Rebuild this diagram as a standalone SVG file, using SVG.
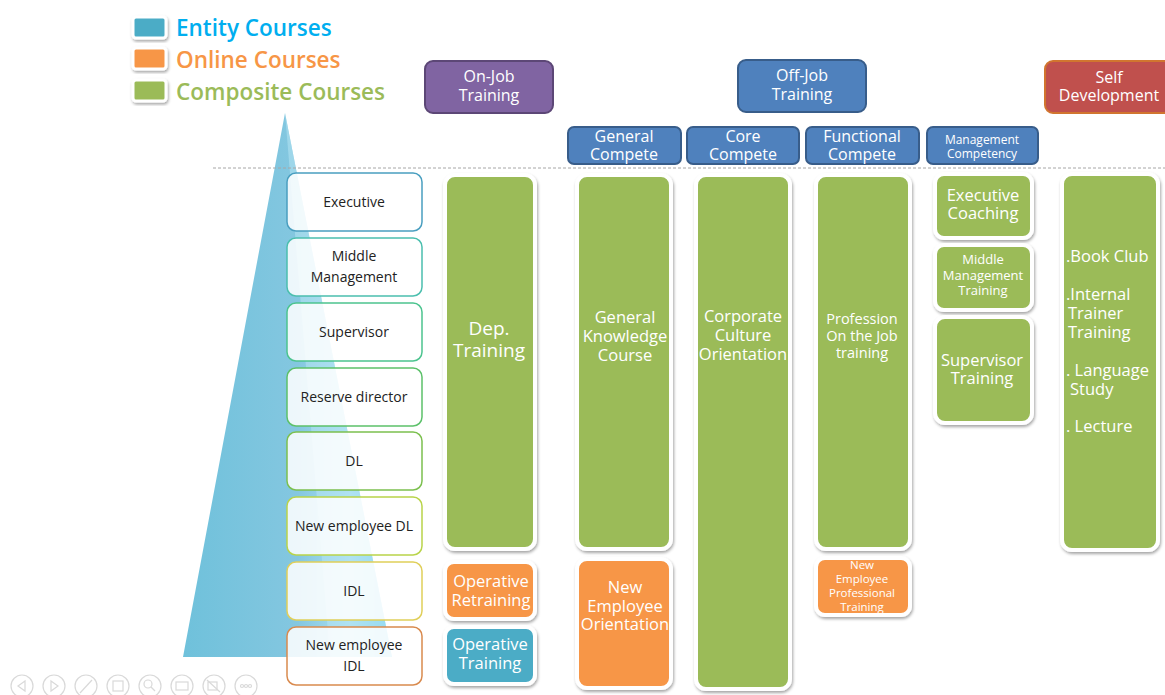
<svg xmlns="http://www.w3.org/2000/svg" width="1165" height="695" viewBox="0 0 1165 695">
<defs>
<filter id="sh" x="-20%" y="-20%" width="140%" height="140%">
<feDropShadow dx="1" dy="2" stdDeviation="1.6" flood-color="#000" flood-opacity="0.35"/>
</filter>
<linearGradient id="triL" x1="0" y1="0" x2="1" y2="0">
<stop offset="0" stop-color="#6fc1db"/>
<stop offset="0.55" stop-color="#84c7e0"/>
<stop offset="0.8" stop-color="#a9dff0"/>
<stop offset="1" stop-color="#6fd0f0"/>
</linearGradient>
</defs>
<style>
.t{font-family:"Open Sans","Noto Sans","DejaVu Sans",sans-serif;}
.lg{font-size:22.5px;font-weight:600;}
.lvl rect{fill:#ffffff;fill-opacity:0.86;stroke-width:1.5;}
.lvl text{font-size:14px;fill:#222;text-anchor:middle;}
.hd{stroke-width:2;}
.hd text, .wt{fill:#fff;text-anchor:middle;}
.card{stroke:#fff;stroke-width:4;filter:url(#sh);}
.g{fill:#9bbb59;}
.o{fill:#f79646;}
.b{fill:#4bacc6;}
.blue{fill:#4f81bd;stroke:#385d8a;}
.ic{fill:none;stroke:#d9d9d9;stroke-width:1.2;}
</style>

<g id="legend">
<rect x="133" y="17" width="33" height="21" rx="3" fill="#4bacc6" stroke="#fff" stroke-width="3" filter="url(#sh)"/>
<rect x="133" y="48" width="33" height="21" rx="3" fill="#f79646" stroke="#fff" stroke-width="3" filter="url(#sh)"/>
<rect x="133" y="80" width="33" height="21" rx="3" fill="#9bbb59" stroke="#fff" stroke-width="3" filter="url(#sh)"/>
<text class="t lg" x="176" y="36" fill="#00aeef">Entity Courses</text>
<text class="t lg" x="176" y="68" fill="#f79646">Online Courses</text>
<text class="t lg" x="176" y="100" fill="#9bbb59">Composite Courses</text>
</g>

<g id="pyramid">
<polygon points="285,113 183,657 392,657" fill="url(#triL)"/>
<polygon points="285,113 330,657 392,657" fill="#b5e4f3" opacity="0.55"/>
</g>

<line x1="213" y1="168" x2="1165" y2="168" stroke="#a6a6a6" stroke-width="1" stroke-dasharray="3,2"/>

<g id="levels" class="t">
<g id="lvl-executive" class="lvl"><rect x="287" y="173" width="135" height="58" rx="9" stroke="#4a9fc0"/><text x="354" y="207">Executive</text></g>
<g id="lvl-middle" class="lvl"><rect x="287" y="238" width="135" height="58" rx="9" stroke="#4bbfae"/><text x="354" y="261">Middle</text><text x="354" y="282">Management</text></g>
<g id="lvl-supervisor" class="lvl"><rect x="287" y="303" width="135" height="58" rx="9" stroke="#4cc48f"/><text x="354" y="337">Supervisor</text></g>
<g id="lvl-reserve" class="lvl"><rect x="287" y="368" width="135" height="58" rx="9" stroke="#5cc16a"/><text x="354" y="402">Reserve director</text></g>
<g id="lvl-dl" class="lvl"><rect x="287" y="432" width="135" height="58" rx="9" stroke="#7cc04f"/><text x="354" y="466">DL</text></g>
<g id="lvl-newdl" class="lvl"><rect x="287" y="497" width="135" height="58" rx="9" stroke="#b9d44a"/><text x="354" y="531">New employee DL</text></g>
<g id="lvl-idl" class="lvl"><rect x="287" y="562" width="135" height="58" rx="9" stroke="#e0cf5a"/><text x="354" y="596">IDL</text></g>
<g id="lvl-newidl" class="lvl"><rect x="287" y="627" width="135" height="58" rx="9" stroke="#d98a4e"/><text x="354" y="650">New employee</text><text x="354" y="671">IDL</text></g>
</g>

<g id="headers" class="t">
<g id="h-onjob" class="hd"><rect x="425" y="61" width="128" height="52" rx="8" fill="#8064a2" stroke="#5c4776" stroke-width="2"/><text x="489" y="82" font-size="16">On-Job</text><text x="489" y="101" font-size="16">Training</text></g>
<g id="h-offjob" class="hd"><rect x="738" y="60" width="128" height="52" rx="8" class="blue" stroke-width="2"/><text x="802" y="81" font-size="16">Off-Job</text><text x="802" y="100" font-size="16">Training</text></g>
<g id="h-self" class="hd"><rect x="1045" y="61" width="130" height="52" rx="8" fill="#c0504d" stroke="#d1752f" stroke-width="2"/><text x="1109" y="83" font-size="16">Self</text><text x="1109" y="101" font-size="16">Development</text></g>
<g id="h-general" class="hd"><rect x="568" y="127" width="113" height="37" rx="6" class="blue" stroke-width="2"/><text x="624" y="142" font-size="16">General</text><text x="624" y="160" font-size="16">Compete</text></g>
<g id="h-core" class="hd"><rect x="687" y="127" width="112" height="37" rx="6" class="blue" stroke-width="2"/><text x="743" y="142" font-size="16">Core</text><text x="743" y="160" font-size="16">Compete</text></g>
<g id="h-functional" class="hd"><rect x="806" y="127" width="113" height="37" rx="6" class="blue" stroke-width="2"/><text x="862" y="142" font-size="16">Functional</text><text x="862" y="160" font-size="16">Compete</text></g>
<g id="h-management" class="hd"><rect x="927" y="127" width="111" height="37" rx="6" class="blue" stroke-width="2"/><text x="982" y="144" font-size="12">Management</text><text x="982" y="158" font-size="12">Competency</text></g>
</g>

<g id="courses" class="t">
<g id="c-dep"><rect class="card g" x="445" y="175" width="90" height="374" rx="10"/><text class="wt" x="489" y="335" font-size="19">Dep.</text><text class="wt" x="489" y="357" font-size="19">Training</text></g>
<g id="c-opretrain"><rect class="card o" x="445" y="562" width="90" height="57" rx="9"/><text class="wt" x="491" y="587" font-size="16.5">Operative</text><text class="wt" x="491" y="606" font-size="16.5">Retraining</text></g>
<g id="c-optrain"><rect class="card b" x="445" y="627" width="90" height="57" rx="9"/><text class="wt" x="490" y="650" font-size="16.5">Operative</text><text class="wt" x="490" y="669" font-size="16.5">Training</text></g>
<g id="c-genknow"><rect class="card g" x="577" y="175" width="94" height="374" rx="10"/><text class="wt" x="625" y="323" font-size="16.5">General</text><text class="wt" x="625" y="342" font-size="16.5">Knowledge</text><text class="wt" x="625" y="361" font-size="16.5">Course</text></g>
<g id="c-neworient"><rect class="card o" x="577" y="559" width="94" height="129" rx="10"/><text class="wt" x="625" y="593" font-size="16.5">New</text><text class="wt" x="625" y="612" font-size="16.5">Employee</text><text class="wt" x="625" y="630" font-size="16.5">Orientation</text></g>
<g id="c-culture"><rect class="card g" x="696" y="175" width="94" height="514" rx="10"/><text class="wt" x="743" y="322" font-size="16.5">Corporate</text><text class="wt" x="743" y="341" font-size="16.5">Culture</text><text class="wt" x="743" y="360" font-size="16.5">Orientation</text></g>
<g id="c-profession"><rect class="card g" x="816" y="175" width="94" height="374" rx="10"/><text class="wt" x="862" y="324" font-size="14.5">Profession</text><text class="wt" x="862" y="341" font-size="14.5">On the Job</text><text class="wt" x="862" y="358" font-size="14.5">training</text></g>
<g id="c-newprof"><rect class="card o" x="816" y="558" width="94" height="57" rx="9"/><text class="wt" x="862" y="569" font-size="11.5">New</text><text class="wt" x="862" y="583" font-size="11.5">Employee</text><text class="wt" x="862" y="597" font-size="11.5">Professional</text><text class="wt" x="862" y="611" font-size="11.5">Training</text></g>
<g id="c-execcoach"><rect class="card g" x="935" y="174" width="97" height="64" rx="9"/><text class="wt" x="983" y="201" font-size="16.5">Executive</text><text class="wt" x="983" y="219" font-size="16.5">Coaching</text></g>
<g id="c-midmgmt"><rect class="card g" x="935" y="245" width="97" height="65" rx="9"/><text class="wt" x="983" y="264" font-size="13">Middle</text><text class="wt" x="983" y="280" font-size="13">Management</text><text class="wt" x="983" y="295" font-size="13">Training</text></g>
<g id="c-supervisor"><rect class="card g" x="935" y="317" width="97" height="106" rx="10"/><text class="wt" x="982" y="366" font-size="16.5">Supervisor</text><text class="wt" x="982" y="384" font-size="16.5">Training</text></g>
<g id="c-self"><rect class="card g" x="1062" y="174" width="96" height="376" rx="10"/>
<g fill="#fff" font-size="16.5"><text x="1066" y="262">.Book Club</text><text x="1066" y="300">.Internal</text><text x="1068" y="319">Trainer</text><text x="1068" y="338">Training</text><text x="1066" y="376">. Language</text><text x="1070" y="395">Study</text><text x="1066" y="432">. Lecture</text></g></g>
</g>

<g id="connectors"></g>

<g id="toolbar">
<circle class="ic" cx="22" cy="686" r="11"/><polygon class="ic" points="25,681 18,686 25,691"/>
<circle class="ic" cx="54" cy="686" r="11"/><polygon class="ic" points="51,681 58,686 51,691"/>
<circle class="ic" cx="86" cy="686" r="11"/><line class="ic" x1="80" y1="693" x2="92" y2="680"/>
<circle class="ic" cx="118" cy="686" r="11"/><rect class="ic" x="113" y="681" width="10" height="10"/>
<circle class="ic" cx="150" cy="686" r="11"/><circle class="ic" cx="148" cy="684" r="4"/><line class="ic" x1="151" y1="687" x2="155" y2="691"/>
<circle class="ic" cx="182" cy="686" r="11"/><rect class="ic" x="176" y="682" width="12" height="8"/>
<circle class="ic" cx="214" cy="686" r="11"/><rect class="ic" x="208" y="682" width="9" height="8"/><line class="ic" x1="207" y1="680" x2="220" y2="692"/>
<circle class="ic" cx="246" cy="686" r="11"/><circle class="ic" cx="242" cy="686" r="1.5"/><circle class="ic" cx="246" cy="686" r="1.5"/><circle class="ic" cx="250" cy="686" r="1.5"/>
</g>
</svg>
